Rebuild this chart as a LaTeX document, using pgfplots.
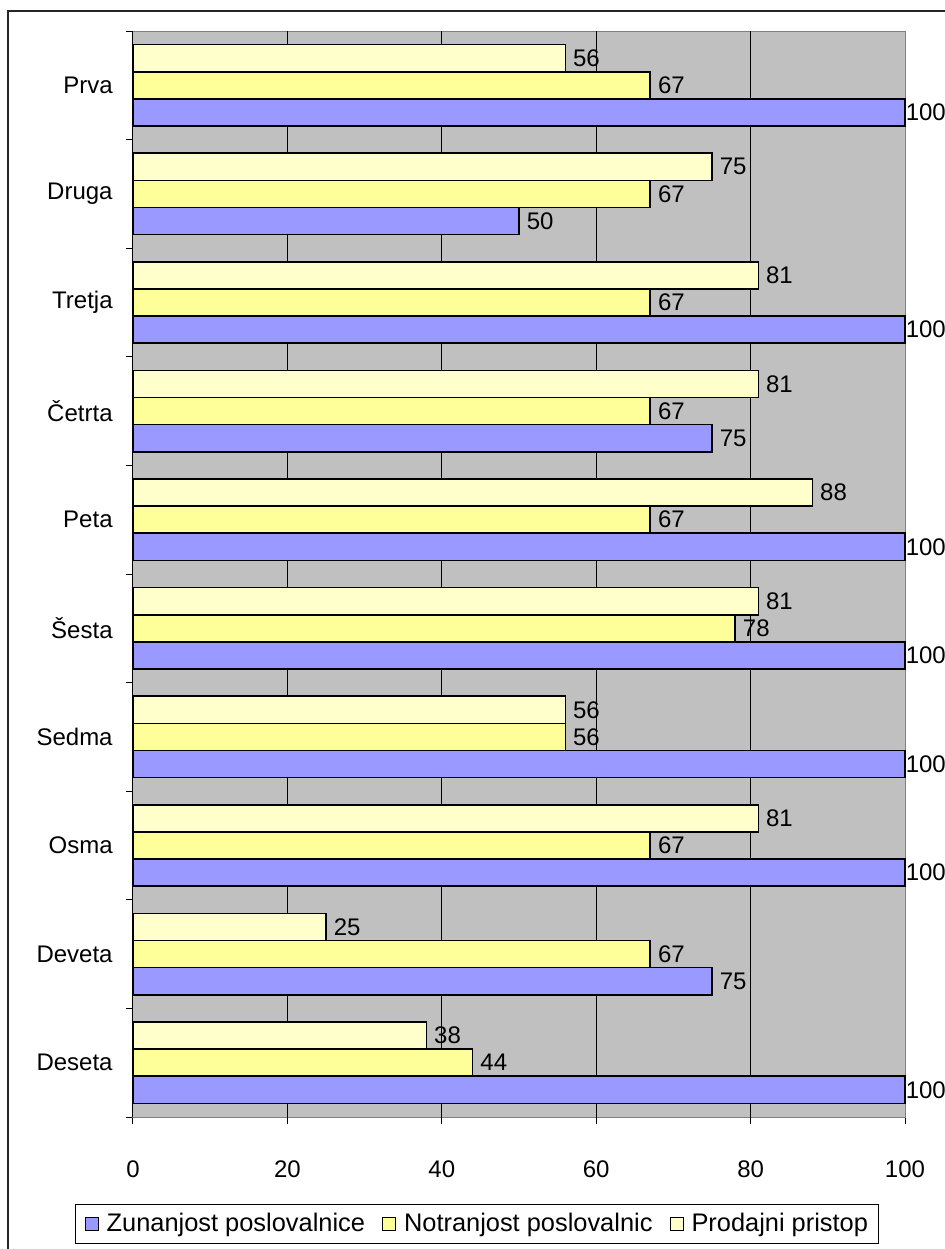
\documentclass[border=0pt]{standalone}
\usepackage{fontspec}
\setmainfont{Liberation Sans}
\usepackage{pgfplots}
\pgfplotsset{compat=1.18}

\definecolor{zblue}{HTML}{9999FF}
\definecolor{nyellow}{HTML}{FFFF99}
\definecolor{pyellow}{HTML}{FFFFCC}
\definecolor{plotgray}{HTML}{C0C0C0}
\definecolor{framegray}{HTML}{808080}

\begin{document}
\fontsize{12pt}{14pt}\selectfont
\begin{tikzpicture}
\useasboundingbox (0,0) rectangle (472.5pt,624.5pt);
% outer chart frame
\draw[line width=0.6pt, color=black!85] (4pt,-10pt) rectangle (485pt,619pt);
\begin{axis}[
  at={(66.5pt,66pt)}, anchor=south west,
  scale only axis, width=386pt, height=543pt,
  clip=false,
  xbar, bar width=0.25,
  xmin=0, xmax=100, ymin=-0.5, ymax=9.5, y dir=reverse,
  axis background/.style={fill=plotgray},
  axis line style={framegray, line width=0.5pt},
  xtick={0,20,...,100},
  ytick={0,...,9},
  yticklabels={Prva,Druga,Tretja,Četrta,Peta,Šesta,Sedma,Osma,Deveta,Deseta},
  minor ytick={-0.5,0.5,...,9.5},
  tick align=outside, tick pos=left,
  major tick length=3.5pt, minor tick length=3.5pt,
  tick style={black, line width=0.5pt},
  major y tick style={draw=none},
  extra x ticks={20,40,60,80}, extra x tick labels={},
  extra x tick style={grid=major, major grid style={black, line width=0.5pt}},
  /pgf/number format/assume math mode=true,
  xticklabel style={yshift=-14pt},
  yticklabel style={xshift=-2.5pt},
  point meta=x,
  nodes near coords,
  visualization depends on={rawx \as \rx},
  every node near coord/.append style={anchor=west, inner sep=0pt,
    xshift={ifthenelse(\rx>99.5,0pt,3.5pt)}},
  legend columns=3,
  legend cell align=left,
  legend style={at={(0.445,-0.0985)}, anchor=center, draw=black,
    line width=0.5pt, fill=white, inner xsep=5pt, inner ysep=4.2pt,
    font=\fontsize{12.7pt}{15pt}\selectfont,
    nodes={inner sep=0pt},
    /tikz/every odd column/.append style={column sep=4pt},
    /tikz/every even column/.append style={column sep=8.7pt}},
  legend image code/.code={\draw[#1, line width=0.5pt] (0pt,-3.1pt) rectangle (6.3pt,3.2pt);},
]
% Zunanjost poslovalnice (lowest bar of each group)
\addplot[fill=zblue, draw=black, line width=0.8pt, bar shift=0.25]
  coordinates {(100,0) (50,1) (100,2) (75,3) (100,4) (100,5) (100,6) (100,7) (75,8) (100,9)};
% Notranjost poslovalnic
\addplot[fill=nyellow, draw=black, line width=0.8pt, bar shift=0]
  coordinates {(67,0) (67,1) (67,2) (67,3) (67,4) (78,5) (56,6) (67,7) (67,8) (44,9)};
% Prodajni pristop (top bar of each group)
\addplot[fill=pyellow, draw=black, line width=0.8pt, bar shift=-0.25]
  coordinates {(56,0) (75,1) (81,2) (81,3) (88,4) (81,5) (56,6) (81,7) (25,8) (38,9)};
\legend{Zunanjost poslovalnice, Notranjost poslovalnic, Prodajni pristop}
\draw[black, line width=0.5pt] (rel axis cs:0,0) -- (rel axis cs:0,1);
\end{axis}
\end{tikzpicture}
\end{document}
